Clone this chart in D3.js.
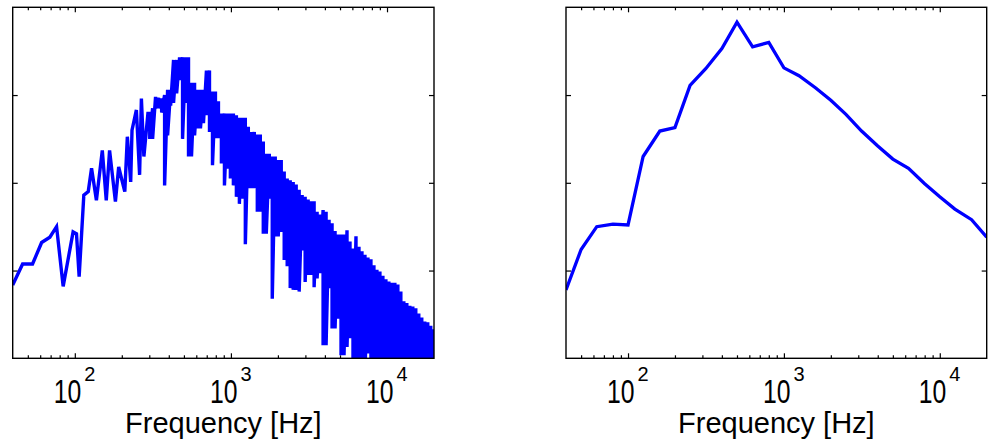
<!DOCTYPE html>
<html><head><meta charset="utf-8">
<script src="https://cdn.jsdelivr.net/npm/d3@7"></script>
<style>body{margin:0;background:#fff}svg{display:block}</style>
</head><body><svg id="c" width="991" height="447"></svg>
<script>
// ---- data (relative level, arbitrary units; 0..40) ----
// narrow-band spectrum, low-frequency part (individual points)
const sparseFreq = [40,46.3,53.6,61.3,69.2,76.4,84.2,97.5,102.5,106.6,114.2,121.9,128,137.5,150,159,167,182,191,209,217,228,232.5,248,260,267,277,294];
const sparseLevel = [8.35,10.75,10.75,13.2,13.8,15.0,8.2,14.4,14.2,9.3,18.6,19.0,21.65,18.0,23.7,18.0,23.7,17.85,21.8,19.0,25.25,20.1,26.0,28.3,20.9,29.6,23.0,27.9];
// narrow-band spectrum, dense part: local max / min per frequency bin group
const denseFreq = [302,315,329,344,360,376,393,411,429,449,469,490,512,535,559,585,611,638,667,697,729,762,796,832,869,909,950,992,1037,1084,1133,1184,1237,1293,1351,1412,1476,1543,1612,1685,1761,1840,1923,2010,2101,2195,2294,2398,2506,2619,2737,2860,2989,3124,3265,3412,3566,3727,3895,4071,4254,4446,4647,4856,5075,5304,5543,5793,6055,6328,6613,6911,7223,7549,7889,8245,8617,9006,9412,9836,10280,10743,11228,11734,12263,12816,13394,13998,14630,15289,15979,16699,17453,18240,19062,19922];
const denseHi = [27.9,28.5,29.8,29.7,29.6,30.0,30.6,30.6,34.0,34.0,34.3,34.3,34.3,34.3,31.4,31.4,30.6,30.6,30.6,32.8,32.8,30.4,30.4,29.3,27.9,27.9,27.9,27.9,27.9,27.7,27.4,27.4,27.4,26.4,25.8,25.8,25.5,25.5,24.7,23.3,23.3,23.0,23.0,22.6,22.6,21.3,20.5,20.3,20.1,19.8,19.2,18.6,18.4,18.1,17.9,17.9,16.7,16.4,16.9,16.7,15.8,15.4,14.5,14.1,14.1,14.1,14.6,13.3,12.5,13.9,12.7,12.2,11.8,11.5,11.3,10.6,10.1,9.9,9.4,9.0,8.75,8.6,8.6,8.4,7.6,6.5,6.3,6.0,5.9,5.7,5.1,4.65,4.2,4.1,3.7,3.3];
const denseLo = [25.0,25.0,28.5,28.5,28.0,19.7,25.4,28.8,29.1,30.2,31.7,25.0,29.1,23.0,23.0,25.4,26.2,26.2,26.8,27.7,25.8,22.0,25.1,25.1,22.2,19.7,21.6,20.5,19.7,18.4,17.6,18.2,13.0,19.4,19.4,19.4,16.7,16.7,14.2,14.2,18.2,6.8,13.9,13.9,14.4,11.2,10.5,8.0,7.8,7.8,7.6,12.3,8.7,9.5,9.5,8.1,9.1,9.7,1.5,1.5,8.0,3.4,3.4,4.5,0.35,0.35,1.3,2.3,-2,-2,-2,-2,-2,0.55,-2,-2,-2,-2,-2,-2,-2,-2,-2,-2,-2,-2,-2,-2,-2,-2,-2,-2,-2,-2,-2,-2];
// third-octave band spectrum
const bandFreq = [40,50,63,80,100,125,160,200,250,315,400,500,630,800,1000,1250,1600,2000,2500,3150,4000,5000,6300,8000,10000,12500,16000,20000];
const bandLevel = [7.8,12.4,15.0,15.3,15.2,23.0,25.9,26.3,31.1,33.0,35.3,38.3,35.5,36.0,33.1,32.2,30.8,29.4,27.8,25.9,24.2,22.7,21.65,19.9,18.4,17.0,15.8,13.8];
// axes
const freqDomain = [40, 20000];
const levelDomain = [0, 40];
const majorTicks = [100, 1000, 10000];
const tickExp = ["2", "3", "4"];
const levelTicks = [10, 20, 30];
const xLabel = "Frequency [Hz]";

// ---- build series ----
const leftPts = sparseFreq.map((f, i) => [f, sparseLevel[i]]);
denseFreq.forEach((f, i) => { leftPts.push([f, denseHi[i]]); leftPts.push([f, denseLo[i]]); });
const rightPts = bandFreq.map((f, i) => [f, bandLevel[i]]);

const svg = d3.select("#c");
const FONT = "'Liberation Sans', Arial, Helvetica, sans-serif";
const yTop = 7.3, yBottom = 358.3;

function panel(id, x0, x1, pts, lw) {
  const x = d3.scaleLog().domain(freqDomain).range([x0, x1]);
  const y = d3.scaleLinear().domain(levelDomain).range([yBottom, yTop]);
  const g = svg.append("g");
  g.append("clipPath").attr("id", "clip" + id)
    .append("rect").attr("x", x0).attr("y", yTop).attr("width", x1 - x0).attr("height", yBottom - yTop);

  const minor = x.ticks().filter(t => !majorTicks.includes(t) && t > freqDomain[0] && t < freqDomain[1]);
  const axes = [
    [d3.axisBottom(x).tickValues(majorTicks).tickSize(-5), yBottom],
    [d3.axisBottom(x).tickValues(minor).tickSize(-3), yBottom],
    [d3.axisTop(x).tickValues(majorTicks).tickSize(-5), yTop],
    [d3.axisTop(x).tickValues(minor).tickSize(-3), yTop]
  ];
  axes.forEach(([ax, yy]) => {
    const a = g.append("g").attr("transform", `translate(0,${yy})`).call(ax.tickFormat(""));
    a.select(".domain").remove();
    a.selectAll("line").attr("stroke", "#000").attr("stroke-width", 1.2);
  });
  [[d3.axisLeft(y), x0], [d3.axisRight(y), x1]].forEach(([ax, xx]) => {
    const a = g.append("g").attr("transform", `translate(${xx},0)`)
      .call(ax.tickValues(levelTicks).tickSize(-5).tickFormat(""));
    a.select(".domain").remove();
    a.selectAll("line").attr("stroke", "#000").attr("stroke-width", 1.2);
  });

  const line = d3.line().x(d => x(d[0])).y(d => y(d[1]));
  g.append("path").datum(pts).attr("d", line)
    .attr("clip-path", `url(#clip${id})`)
    .attr("fill", "none").attr("stroke", "#0000ff").attr("stroke-width", lw)
    .attr("stroke-linejoin", "miter");

  g.append("rect").attr("x", x0).attr("y", yTop).attr("width", x1 - x0).attr("height", yBottom - yTop)
    .attr("fill", "none").attr("stroke", "#000").attr("stroke-width", 1.4);

  majorTicks.forEach((t, i) => {
    const lg = g.append("g").attr("transform", `translate(${x(t)},0)`);
    lg.append("text").attr("transform", "translate(6.5,403) scale(0.75,1)")
      .attr("text-anchor", "end").attr("font-family", FONT).attr("font-size", 33)
      .attr("fill", "#000").text("10");
    lg.append("text").attr("x", 9.5).attr("y", 380.5)
      .attr("font-family", FONT).attr("font-size", 20).attr("fill", "#000").text(tickExp[i]);
  });
  g.append("text").attr("x", (x0 + x1) / 2).attr("y", 432.7).attr("text-anchor", "middle")
    .attr("font-family", FONT).attr("font-size", 29).attr("fill", "#000").text(xLabel);
}

panel("L", 12.7, 434, leftPts, 3.4);
panel("R", 566, 986.7, rightPts, 3.3);
</script></body></html>
